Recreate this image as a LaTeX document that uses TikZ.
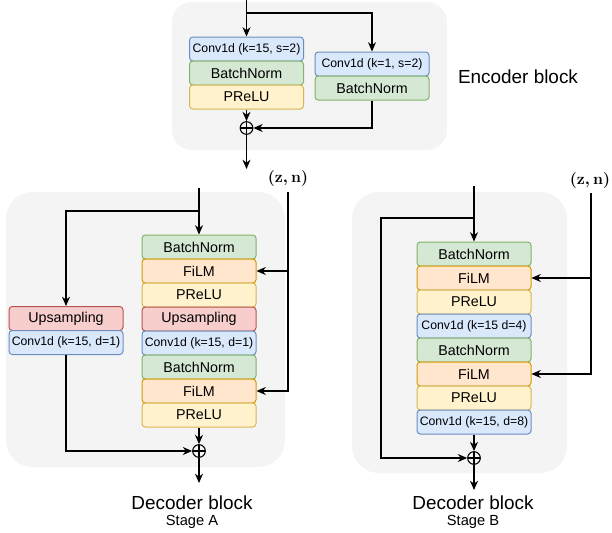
\documentclass[tikz,border=0pt]{standalone}
\usepackage{fontspec}
\setmainfont{Liberation Sans}
\usetikzlibrary{arrows.meta}

% draw.io style palette
\definecolor{bgpanel}{HTML}{F4F4F4}
\definecolor{convfill}{HTML}{DAE8FC}\definecolor{convline}{HTML}{6C8EBF}
\definecolor{normfill}{HTML}{D5E8D4}\definecolor{normline}{HTML}{82B366}
\definecolor{actfill}{HTML}{FFF2CC}\definecolor{actline}{HTML}{D6B656}
\definecolor{upfill}{HTML}{F8CECC}\definecolor{upline}{HTML}{B85450}
\definecolor{filmfill}{HTML}{FFE6CC}\definecolor{filmline}{HTML}{D79B00}

\tikzset{
  blk/.style={draw, line width=0.75pt, rounded corners=2.5pt, inner sep=0pt, minimum width=85.5pt,
    minimum height=18pt, font=\fontsize{10.7}{12}\selectfont},
  convbox/.style={blk, fill=convfill, draw=convline, font=\fontsize{9.2}{11}\selectfont},
  normbox/.style={blk, fill=normfill, draw=normline},
  actbox/.style={blk, fill=actfill, draw=actline},
  upbox/.style={blk, fill=upfill, draw=upline},
  filmbox/.style={blk, fill=filmfill, draw=filmline},
  panel/.style={fill=bgpanel, rounded corners=15pt},
  sumnode/.style={circle, draw, line width=0.8pt, minimum size=9.5pt, inner sep=0pt,
    path picture={\draw (path picture bounding box.north) -- (path picture bounding box.south)
      (path picture bounding box.west) -- (path picture bounding box.east);}},
  link/.style={draw, line width=0.85pt, -{Stealth[length=7pt,width=6pt]}},
  title/.style={font=\fontsize{14.2}{16}\selectfont},
  subtitle/.style={font=\fontsize{11}{12}\selectfont},
  zlabel/.style={font=\fontsize{13}{15}\selectfont\boldmath},
}

\begin{document}
\begin{tikzpicture}[x=0.75pt, y=-0.75pt]
\useasboundingbox (0,0) rectangle (612,533);

% ---------------- Encoder block ----------------
\fill[panel] (172,2) rectangle (447,150);
\node[convbox] (ec1) at (246.5,49) {Conv1d (k=15, s=2)};
\node[normbox] (ebn) at (246.5,73) {BatchNorm};
\node[actbox]  (epr) at (246.5,97) {PReLU};
\node[convbox] (ec2) at (372,64) {Conv1d (k=1, s=2)};
\node[normbox] (ebn2) at (372,88) {BatchNorm};
\node[sumnode] (esum) at (246.5,128) {};
\node[title] (elabel) at (518,77) {Encoder block};

\coordinate (ein) at (246.5,0);
\coordinate (ebr) at (246.5,13);
\coordinate (eout) at (246.5,169);
\draw[link] (ein) -- (ec1.north);
\draw[link] (ebr) -| (ec2.north);
\draw[link] (epr.south) -- (esum.north);
\draw[link] (ebn2.south) |- (esum.east);
\draw[link] (esum.south) -- (eout);

% ---------------- Decoder block, stage A ----------------
\fill[panel, rounded corners=20pt] (6,192) rectangle (285,467);
\node[normbox] (abn1) at (199,247) {BatchNorm};
\node[filmbox] (afilm1) at (199,271) {FiLM};
\node[actbox]  (apr1) at (199,295) {PReLU};
\node[upbox]   (aup1) at (199,319) {Upsampling};
\node[convbox] (aconv1) at (199,343) {Conv1d (k=15, d=1)};
\node[normbox] (abn2) at (199,367) {BatchNorm};
\node[filmbox] (afilm2) at (199,391) {FiLM};
\node[actbox]  (apr2) at (199,415) {PReLU};
\node[upbox]   (aup2) at (66,318.5) {Upsampling};
\node[convbox] (aconv2) at (66,342.5) {Conv1d (k=15, d=1)};
\node[sumnode] (asum) at (199,451) {};
\node[zlabel] (azl) at (288,178) {$(\mathbf{z},\mathbf{n})$};
\node[title] (alabel) at (192,503) {Decoder block};
\node[subtitle] (astage) at (192,522) {Stage A};

\coordinate (ain) at (199,188);
\coordinate (abr) at (199,211);
\coordinate (azn) at (288,192);
\coordinate (aout) at (199,483);
\draw[link] (ain) -- (abn1.north);
\draw[link] (abr) -| (aup2.north);
\draw[link] (azn) |- (afilm1.east);
\draw[link] (azn) |- (afilm2.east);
\draw[link] (aconv2.south) |- (asum.west);
\draw[link] (apr2.south) -- (asum.north);
\draw[link] (asum.south) -- (aout);

% ---------------- Decoder block, stage B ----------------
\fill[panel, rounded corners=20pt] (352,192) rectangle (567,473);
\node[normbox] (bbn1) at (474,254) {BatchNorm};
\node[filmbox] (bfilm1) at (474,278) {FiLM};
\node[actbox]  (bpr1) at (474,302) {PReLU};
\node[convbox] (bconv1) at (474,326) {Conv1d (k=15 d=4)};
\node[normbox] (bbn2) at (474,350) {BatchNorm};
\node[filmbox] (bfilm2) at (474,374) {FiLM};
\node[actbox]  (bpr2) at (474,398) {PReLU};
\node[convbox] (bconv2) at (474,422) {Conv1d (k=15, d=8)};
\node[sumnode] (bsum) at (474,458) {};
\node[zlabel] (bzl) at (590,180) {$(\mathbf{z},\mathbf{n})$};
\node[title] (blabel) at (473,503) {Decoder block};
\node[subtitle] (bstage) at (473,522) {Stage B};

\coordinate (bin) at (474,186);
\coordinate (bbr) at (474,218);
\coordinate (bcorner) at (381,458);
\coordinate (bzn) at (591,193);
\coordinate (bout) at (474,490);
\draw[link] (bin) -- (bbn1.north);
\draw[link] (bbr) -| (bcorner) -- (bsum.west);
\draw[link] (bzn) |- (bfilm1.east);
\draw[link] (bzn) |- (bfilm2.east);
\draw[link] (bconv2.south) -- (bsum.north);
\draw[link] (bsum.south) -- (bout);
\end{tikzpicture}
\end{document}
